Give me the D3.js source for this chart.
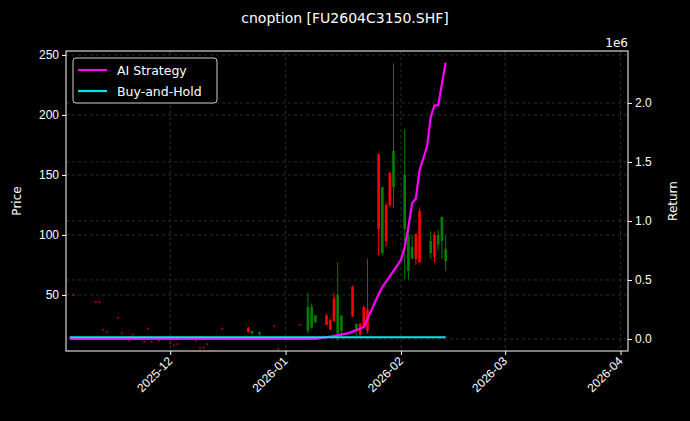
<!DOCTYPE html>
<html><head><meta charset="utf-8">
<script src="https://cdn.jsdelivr.net/npm/d3@7"></script>
<style>body{margin:0;background:#000}svg{font-family:"DejaVu Sans",sans-serif}</style>
</head><body><svg id="c" width="690" height="421"></svg>
<script>
// candles: date, open, high, low, close
const candleDates = ["2025-11-05","2025-11-11","2025-11-12","2025-11-13","2025-11-14","2025-11-17","2025-11-18","2025-11-20","2025-11-21","2025-11-24","2025-11-25","2025-11-26","2025-11-28","2025-12-01","2025-12-02","2025-12-03","2025-12-08","2025-12-09","2025-12-10","2025-12-11","2025-12-15","2025-12-22","2025-12-23","2025-12-25","2025-12-29","2025-12-30","2026-01-05","2026-01-07","2026-01-08","2026-01-09","2026-01-12","2026-01-13","2026-01-14","2026-01-15","2026-01-16","2026-01-19","2026-01-20","2026-01-21","2026-01-22","2026-01-23","2026-01-26","2026-01-27","2026-01-28","2026-01-29","2026-01-30","2026-02-02","2026-02-03","2026-02-04","2026-02-05","2026-02-06","2026-02-09","2026-02-10","2026-02-11","2026-02-12","2026-02-13"];
const openV  = [50.5,44.5,44.5,21.5,19.5,31.5,18.5,12.5,17.5,11.5,22.5,11.5,12.5,10.5,8.5,9.5,12.5,6.5,6.5,9.5,22.5,23,18,17.5,24.5,5.5,25.5,20,23,27,33,29,47,18,20,57,20,26,40,38,167,85,125,152,140,105,70,80,101,120,85,100,92,95,78];
const highV  = [51,45,45,22,20,32,19,13,18,12,23,12,13,11,9,10,13,7,7,10,23,23,20,19,25,6,26,52,43,33,34,30,52,77,22,58,26,27,41,80,168,140,127,152,243,188,110,100,101,123,103,102,104,115,100];
const lowV   = [49,43,43,20,18,30,17,11,16,10,21,10,11,9,7,8,11,5,5,8,21,19,17,16,23,4,24,18,22,27,25,21,28,12,16,32,16,15,23,18,83,83,90,123,123,63,63,80,75,77,80,77,87,80,70];
const closeV = [49.5,43.5,43.5,20.5,18.5,30.5,17.5,11.5,16.5,10.5,21.5,10.5,11.5,9.5,7.5,8.5,11.5,5.5,5.5,8.5,21.5,19,20,19,23.5,4.5,24.5,40,40,33,25,21,28,50,33,32,26,17,23,20,105,140,95,125,170,150,100,90,80,77,95,82,100,115,88];
// strategy and buy-and-hold returns
const lineDates = ["2025-11-04","2026-01-09","2026-01-13","2026-01-18","2026-01-22","2026-01-26","2026-01-27","2026-01-29","2026-02-01","2026-02-02","2026-02-03","2026-02-04","2026-02-05","2026-02-06","2026-02-08","2026-02-09","2026-02-10","2026-02-11","2026-02-13"];
const aiReturn = [0,0,0.02,0.05,0.1,0.38,0.44,0.53,0.67,0.78,0.95,1.15,1.19,1.43,1.63,1.88,1.98,1.98,2.34];
const bhDates = ["2025-11-04","2026-02-13"];
const bhReturn = [0.015,0.015];
const leftTicks = [50,100,150,200,250];
const rightTicks = [0,0.5,1.0,1.5,2.0];
const xTickDates = ["2025-12-01","2026-01-01","2026-02-01","2026-03-01","2026-04-01"];

const P = d3.timeParse("%Y-%m-%d");
const svg = d3.select("#c");
svg.append("rect").attr("width",690).attr("height",421).attr("fill","#000");
const L=66,R=628,T=51,B=351;
const x = d3.scaleTime().domain([P("2025-11-03"),P("2026-04-03")]).range([L,R]);
const y = d3.scaleLinear().domain([3.3,253.3]).range([B,T]);
const y2 = d3.scaleLinear().domain([-0.1017,2.44]).range([B,T]);

const g = svg.append("g");
// grid
leftTicks.forEach(v=>g.append("line").attr("x1",L).attr("x2",R).attr("y1",y(v)).attr("y2",y(v)).attr("stroke","#4a4a4a").attr("stroke-dasharray","3,3").attr("stroke-width",0.6));
rightTicks.forEach(v=>g.append("line").attr("x1",L).attr("x2",R).attr("y1",y2(v)).attr("y2",y2(v)).attr("stroke","#4a4a4a").attr("stroke-dasharray","3,3").attr("stroke-width",0.6));
xTickDates.forEach(d=>g.append("line").attr("x1",x(P(d))).attr("x2",x(P(d))).attr("y1",T).attr("y2",B).attr("stroke","#4a4a4a").attr("stroke-dasharray","3,3").attr("stroke-width",0.6));

// candles
candleDates.forEach((d,i)=>{
  const cx = x(P(d)), col = closeV[i]>=openV[i] ? "#008000" : "#ff0000";
  const small = highV[i]-lowV[i] < 3;
  g.append("line").attr("x1",cx).attr("x2",cx).attr("y1",y(highV[i])).attr("y2",y(lowV[i])).attr("stroke",col).attr("stroke-width",1).attr("opacity",small?0.5:1);
  const t=y(Math.max(openV[i],closeV[i])), b=y(Math.min(openV[i],closeV[i]));
  g.append("rect").attr("x",cx-1.3).attr("width",2.6).attr("y",t).attr("height",Math.max(b-t,0.8)).attr("fill",col).attr("opacity",small?0.5:1);
});

const line = d3.line().x(d=>x(P(d[0]))).y(d=>y2(d[1]));
g.append("path").attr("d",line(lineDates.map((d,i)=>[d,aiReturn[i]]))).attr("fill","none").attr("stroke","#ff00ff").attr("stroke-width",2.2);
g.append("path").attr("d",line(bhDates.map((d,i)=>[d,bhReturn[i]]))).attr("fill","none").attr("stroke","#00e5e5").attr("stroke-width",2.2);

// frame
svg.append("rect").attr("x",L).attr("y",T).attr("width",R-L).attr("height",B-T).attr("fill","none").attr("stroke","#fff").attr("stroke-width",1);

const ax = svg.append("g").attr("transform",`translate(0,${B})`).call(d3.axisBottom(x).tickValues(xTickDates.map(P)).tickFormat(d3.timeFormat("%Y-%m")).tickSize(4));
ax.selectAll("text").attr("fill","#fff").attr("font-size",12).attr("text-anchor","end").attr("transform","rotate(-45)").attr("dx","-0.5em").attr("dy","0.2em");
const ay = svg.append("g").attr("transform",`translate(${L},0)`).call(d3.axisLeft(y).tickValues(leftTicks).tickSize(4));
ay.selectAll("text").attr("fill","#fff").attr("font-size",12);
const ay2 = svg.append("g").attr("transform",`translate(${R},0)`).call(d3.axisRight(y2).tickValues(rightTicks).tickFormat(d3.format(".1f")).tickSize(4));
ay2.selectAll("text").attr("fill","#fff").attr("font-size",12);
[ax,ay,ay2].forEach(a=>{a.selectAll("line").attr("stroke","#fff");a.select(".domain").remove();});

svg.append("text").attr("x",345).attr("y",23).attr("text-anchor","middle").attr("fill","#fff").attr("font-size",14).text("cnoption [FU2604C3150.SHF]");
svg.append("text").attr("transform","translate(21,201) rotate(-90)").attr("text-anchor","middle").attr("fill","#fff").attr("font-size",12).text("Price");
svg.append("text").attr("transform","translate(677,201) rotate(-90)").attr("text-anchor","middle").attr("fill","#fff").attr("font-size",12).text("Return");
svg.append("text").attr("x",628).attr("y",47).attr("text-anchor","end").attr("fill","#fff").attr("font-size",12).text("1e6");

// legend
const lg = svg.append("g");
lg.append("rect").attr("x",73).attr("y",58).attr("width",144).attr("height",45).attr("rx",3).attr("fill","#000").attr("stroke","#ccc").attr("stroke-width",1);
[["AI Strategy","#ff00ff"],["Buy-and-Hold","#00e5e5"]].forEach((s,i)=>{
  const yy=70+i*21;
  lg.append("line").attr("x1",78).attr("x2",107).attr("y1",yy).attr("y2",yy).attr("stroke",s[1]).attr("stroke-width",2.2);
  lg.append("text").attr("x",117).attr("y",yy+4.5).attr("fill","#fff").attr("font-size",12.5).text(s[0]);
});
</script></body></html>
